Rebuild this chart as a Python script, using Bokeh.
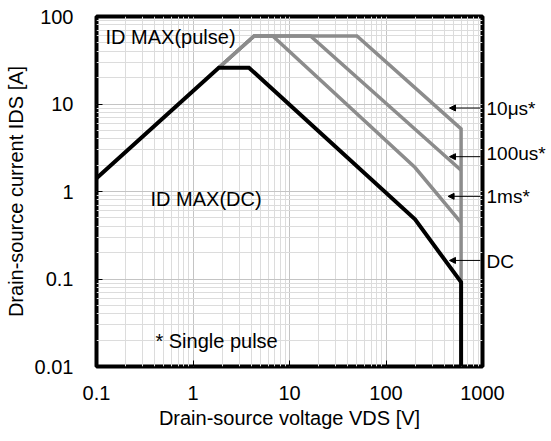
from bokeh.plotting import figure
from bokeh.models import Label, Arrow, NormalHead, FixedTicker, Range1d, LogAxis
from bokeh.embed import file_html
from bokeh.resources import INLINE

# ---- data ----
dc_v = [0.1, 1.85, 3.8, 200, 600, 600]
dc_i = [1.42, 26, 26, 0.48, 0.092, 0.01]

p10us_v = [1.85, 4.3, 50, 600, 600]
p10us_i = [26, 60, 60, 5.2, 0.092]

p100us_v = [1.85, 4.3, 16.5, 600]
p100us_i = [26, 60, 60, 1.75]

p1ms_v = [1.85, 4.3, 6.7, 200, 600]
p1ms_i = [26, 60, 60, 1.88, 0.44]

x_ticks = [0.1, 1, 10, 100, 1000]
x_labels = ["0.1", "1", "10", "100", "1000"]
y_ticks = [0.01, 0.1, 1, 10, 100]
y_labels = ["0.01", "0.1", "1", "10", "100"]

callout_text = ["10\u03bcs*", "100us*", "1ms*", "DC"]
callout_arrow_y = [9.0, 2.5, 0.88, 0.163]
callout_text_y = [9.0, 2.72, 0.88, 0.16]
callout_arrow_x0 = 950
callout_arrow_x1 = [455, 455, 440, 455]

note_text = ["ID MAX(pulse)", "ID MAX(DC)", "* Single pulse"]
note_x = [0.124, 0.363, 0.408]
note_y = [58, 0.83, 0.0198]

FONT = "Liberation Sans"
FS = "20px"
GRAY = "#8c8c8c"

p = figure(width=551, height=441, x_axis_type="log", y_axis_type="log",
           x_range=Range1d(0.1, 1000), y_range=Range1d(0.01, 100),
           output_backend="svg", toolbar_location=None,
           min_border_left=96, min_border_right=69,
           min_border_top=16, min_border_bottom=75)
p.background_fill_color = "white"
p.border_fill_color = "white"
p.outline_line_color = "black"
p.outline_line_width = 4

# right-hand callout texts as an unlined axis
rax = LogAxis(ticker=FixedTicker(ticks=callout_text_y),
              major_label_overrides={t: s for t, s in zip(callout_text_y, callout_text)})
p.add_layout(rax, "right")
rax.axis_line_color = None
rax.major_tick_line_color = None
rax.minor_tick_line_color = None
rax.major_tick_in = 0
rax.major_tick_out = 0
rax.major_label_standoff = 4
rax.major_label_text_font = FONT
rax.major_label_text_font_size = "19px"
rax.major_label_text_color = "black"

x_minor = [k * 10 ** d for d in range(-1, 3) for k in range(2, 10)]
y_minor = [k * 10 ** d for d in range(-2, 2) for k in range(2, 10)]
p.xaxis.ticker = FixedTicker(ticks=x_ticks, minor_ticks=x_minor)
p.yaxis[0].ticker = FixedTicker(ticks=y_ticks, minor_ticks=y_minor)
p.xaxis.major_label_overrides = {t: l for t, l in zip(x_ticks, x_labels)}
p.yaxis[0].major_label_overrides = {t: l for t, l in zip(y_ticks, y_labels)}

for ax in (p.xaxis[0], p.yaxis[0]):
    ax.axis_line_color = None
    ax.major_tick_in = 6
    ax.major_tick_out = 0
    ax.major_tick_line_color = "black"
    ax.major_tick_line_width = 1
    ax.minor_tick_line_color = None
    ax.major_label_text_font = FONT
    ax.major_label_text_font_size = FS
    ax.major_label_text_color = "black"
    ax.axis_label_text_font = FONT
    ax.axis_label_text_font_size = FS
    ax.axis_label_text_font_style = "normal"
    ax.axis_label_text_color = "black"

p.xaxis.axis_label = "Drain-source voltage VDS [V]"
p.yaxis[0].axis_label = "Drain-source current IDS [A]"
p.xaxis.major_label_standoff = 15
p.yaxis[0].major_label_standoff = 19
p.xaxis.axis_label_standoff = 4
p.yaxis[0].axis_label_standoff = 5

for g in (p.xgrid[0], p.ygrid[0]):
    g.grid_line_color = "#c4c4c4"
    g.grid_line_width = 1
    g.minor_grid_line_color = "#dcdcdc"
    g.minor_grid_line_width = 1

for xs, ys in ((p10us_v, p10us_i), (p100us_v, p100us_i), (p1ms_v, p1ms_i)):
    p.line(xs, ys, line_color=GRAY, line_width=3.5, line_join="miter")
p.line(dc_v, dc_i, line_color="black", line_width=4, line_join="miter")

for ay, ax1 in zip(callout_arrow_y, callout_arrow_x1):
    p.add_layout(Arrow(x_start=callout_arrow_x0, y_start=ay, x_end=ax1, y_end=ay,
                       line_color="black", line_width=1,
                       end=NormalHead(size=6, fill_color="black", line_color="black")))

for t, x, y in zip(note_text, note_x, note_y):
    p.add_layout(Label(x=x, y=y, text=t, text_font=FONT, text_font_size=FS,
                       text_baseline="middle", text_align="left", text_color="black"))

open("out.html", "w").write(file_html(p, INLINE))
